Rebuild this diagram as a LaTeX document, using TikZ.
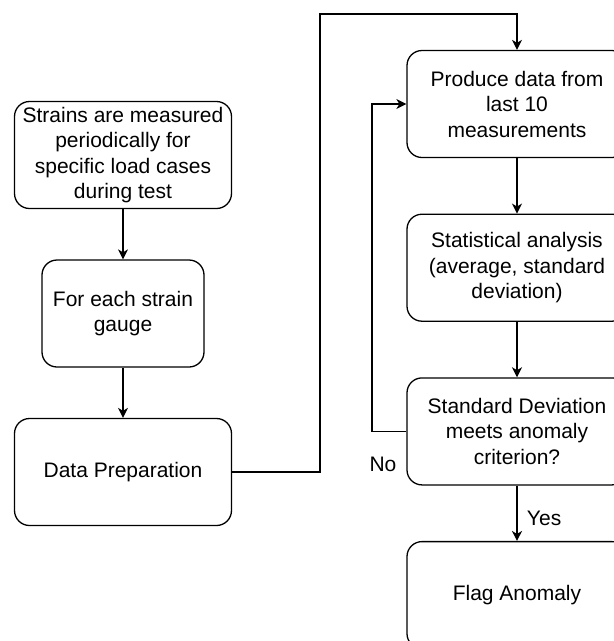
\documentclass[tikz,border=0pt]{standalone}
\usepackage{fontspec}
\setmainfont{Liberation Sans}
\usetikzlibrary{shapes.geometric, arrows.meta}
\tikzstyle{process} = [rectangle, rounded corners=15pt, minimum width=217pt, minimum height=107pt, text centered, draw=black, line width=1.3pt, fill=white]
\tikzstyle{arrow} = [line width=1.3pt,-{Stealth[length=10pt,width=10pt,inset=3pt]}]

\begin{document}
\begin{tikzpicture}[x=1pt, y=-1pt, node distance=163.7pt, every node/.style={align=center, font=\fontsize{21}{25.5}\selectfont}]
        \clip (0,0) rectangle (614,641);

        \node (measure) [process] at (123,155) {Strains are measured\\periodically for\\specific load cases\\during test};
        \node (gauge) [process, below of=measure, node distance=158.5pt, minimum width=162pt] {For each strain\\gauge};
        \node (prep) [process, below of=gauge, node distance=158.5pt] {Data Preparation};

        \node (produce) [process, minimum width=220pt] at (517,104) {Produce data from\\last 10\\measurements};
        \node (stats) [process, minimum width=220pt, below of=produce] {Statistical analysis\\(average, standard\\deviation)};
        \node (criterion) [process, minimum width=220pt, below of=stats] {Standard Deviation\\meets anomaly\\criterion?};
        \node (flag) [process, minimum width=220pt, below of=criterion] {Flag Anomaly};

        \coordinate (turn) at (320,14);
        \coordinate (loop) at (372,104);
        \node (no) at (383,464) {No};

        \draw [arrow] (measure) -- (gauge);
        \draw [arrow] (gauge) -- (prep);
        \draw [arrow] (prep.east) -| (turn) -| (produce.north);
        \draw [arrow] (produce) -- (stats);
        \draw [arrow] (stats) -- (criterion);
        \draw [arrow] (criterion) -- node (yes) [right=6pt, pos=0.6] {Yes} (flag);
        \draw [arrow] (criterion.west) -| (loop) -- (produce.west);
\end{tikzpicture}
\end{document}
